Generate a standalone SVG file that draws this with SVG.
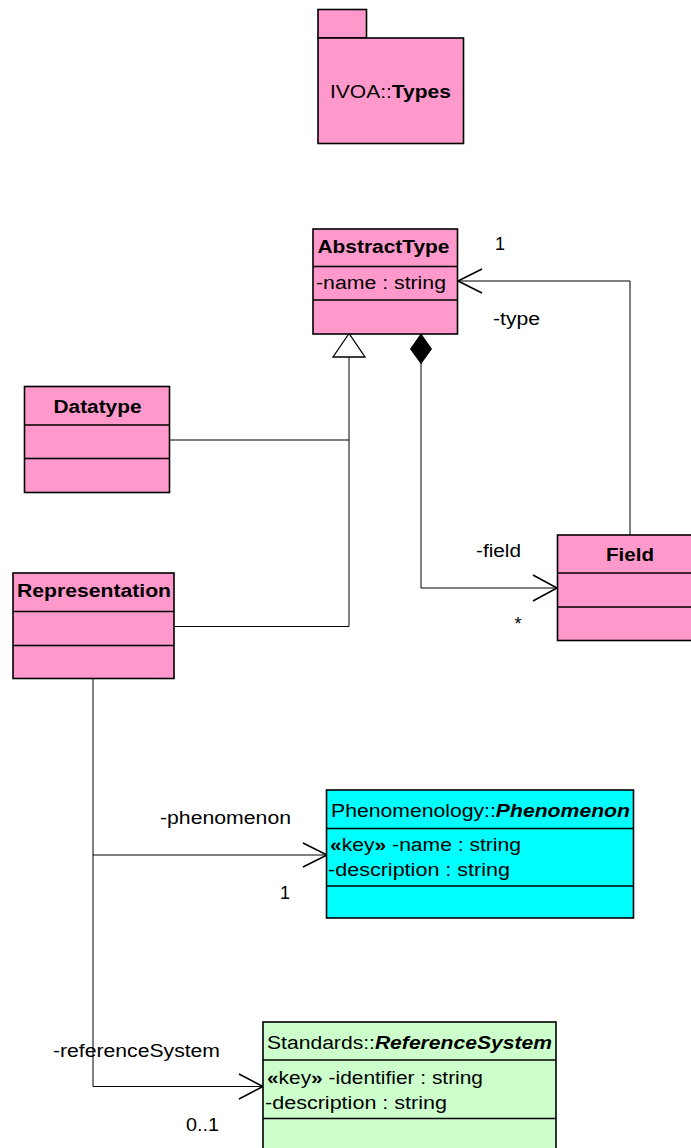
<svg xmlns="http://www.w3.org/2000/svg" width="691" height="1148" viewBox="0 0 691 1148">
  <style>
    text { font-family: "Liberation Sans", Arial, sans-serif; font-size: 18px; fill: #000; }
    .b { font-weight: bold; }
    .bi { font-weight: bold; font-style: italic; }
    .box { stroke: #000; stroke-width: 1.6; }
    .pink { fill: #FF99CC; }
    .cyan { fill: #00FFFF; }
    .green { fill: #CCFFCC; }
    .sep { stroke: #000; stroke-width: 1.6; }
    .edge { fill: none; stroke: #000; stroke-width: 1; }
    .head { fill: none; stroke: #000; stroke-width: 1.6; }
  </style>

  <!-- package -->
  <g id="pkg-types">
    <rect class="box pink" x="318" y="9.5" width="48.5" height="28.5"/>
    <rect class="box pink" x="318" y="38" width="145.5" height="105.5"/>
    <text x="330" y="98" textLength="121" lengthAdjust="spacingAndGlyphs">IVOA::<tspan class="b">Types</tspan></text>
  </g>

  <!-- connectors -->
  <g id="connectors">
    <!-- generalization to AbstractType -->
    <path class="edge" d="M349 357 V626.5 M170 440 H349 M174.5 626.5 H349"/>
    <polygon points="349,333.5 333,357 365,357" fill="#fff" stroke="#000" stroke-width="1.3"/>
    <!-- composition AbstractType -> Field -->
    <path class="edge" d="M421 363 V588 H557"/>
    <polygon points="421,334 431.5,349 421,363.5 410.5,349" fill="#000" stroke="#000" stroke-width="1"/>
    <path class="head" d="M533 575 L557 588 L533 601"/>
    <!-- Field -> AbstractType (type) -->
    <path class="edge" d="M630 535 V281 H458"/>
    <path class="head" d="M482 269 L458 281 L482 293"/>
    <!-- Representation -> Phenomenon / ReferenceSystem -->
    <path class="edge" d="M93 679 V1086.5 H263 M93 855 H327"/>
    <path class="head" d="M303 843 L327 855 L303 867"/>
    <path class="head" d="M239 1074 L263 1086.5 L239 1099"/>

    <text x="495" y="250">1</text>
    <text x="493" y="325" textLength="47" lengthAdjust="spacingAndGlyphs">-type</text>
    <text x="476" y="557" textLength="45" lengthAdjust="spacingAndGlyphs">-field</text>
    <text x="514.5" y="630">*</text>
    <text x="160" y="824" textLength="131" lengthAdjust="spacingAndGlyphs">-phenomenon</text>
    <text x="280" y="899">1</text>
    <text x="53" y="1057" textLength="167" lengthAdjust="spacingAndGlyphs">-referenceSystem</text>
    <text x="186" y="1131" textLength="33" lengthAdjust="spacingAndGlyphs">0..1</text>
  </g>

  <g id="AbstractType">
    <rect class="box pink" x="313" y="229" width="144.5" height="105"/>
    <line class="sep" x1="313" y1="266.5" x2="457.5" y2="266.5"/>
    <line class="sep" x1="313" y1="300" x2="457.5" y2="300"/>
    <text class="b" x="317.5" y="253" textLength="132" lengthAdjust="spacingAndGlyphs">AbstractType</text>
    <text x="316" y="289" textLength="130" lengthAdjust="spacingAndGlyphs">-name : string</text>
  </g>

  <g id="Datatype">
    <rect class="box pink" x="24.5" y="386.5" width="145" height="106"/>
    <line class="sep" x1="24.5" y1="425" x2="169.5" y2="425"/>
    <line class="sep" x1="24.5" y1="458.5" x2="169.5" y2="458.5"/>
    <text class="b" x="53.5" y="413" textLength="88" lengthAdjust="spacingAndGlyphs">Datatype</text>
  </g>

  <g id="Representation">
    <rect class="box pink" x="13" y="573" width="161" height="105.5"/>
    <line class="sep" x1="13" y1="611.5" x2="174" y2="611.5"/>
    <line class="sep" x1="13" y1="645.5" x2="174" y2="645.5"/>
    <text class="b" x="17" y="597" textLength="154" lengthAdjust="spacingAndGlyphs">Representation</text>
  </g>

  <g id="Field">
    <rect class="box pink" x="557.5" y="535" width="140" height="105.5"/>
    <line class="sep" x1="557.5" y1="573" x2="697" y2="573"/>
    <line class="sep" x1="557.5" y1="607" x2="697" y2="607"/>
    <text class="b" x="606" y="561" textLength="48" lengthAdjust="spacingAndGlyphs">Field</text>
  </g>

  <g id="Phenomenon">
    <rect class="box cyan" x="326.5" y="790" width="307" height="128"/>
    <line class="sep" x1="326.5" y1="828.5" x2="633.5" y2="828.5"/>
    <line class="sep" x1="326.5" y1="886" x2="633.5" y2="886"/>
    <text x="331" y="817" textLength="299" lengthAdjust="spacingAndGlyphs">Phenomenology::<tspan class="bi">Phenomenon</tspan></text>
    <text x="330" y="851" textLength="191" lengthAdjust="spacingAndGlyphs"><tspan class="b">«</tspan>key<tspan class="b">»</tspan> -name : string</text>
    <text x="328" y="876" textLength="182" lengthAdjust="spacingAndGlyphs">-description : string</text>
  </g>

  <g id="ReferenceSystem">
    <rect class="box green" x="263" y="1022" width="293" height="140"/>
    <line class="sep" x1="263" y1="1060" x2="556" y2="1060"/>
    <line class="sep" x1="263" y1="1118.5" x2="556" y2="1118.5"/>
    <text x="267" y="1049" textLength="285" lengthAdjust="spacingAndGlyphs">Standards::<tspan class="bi">ReferenceSystem</tspan></text>
    <text x="267" y="1084" textLength="216" lengthAdjust="spacingAndGlyphs"><tspan class="b">«</tspan>key<tspan class="b">»</tspan> -identifier : string</text>
    <text x="265" y="1109" textLength="182" lengthAdjust="spacingAndGlyphs">-description : string</text>
  </g>
</svg>
